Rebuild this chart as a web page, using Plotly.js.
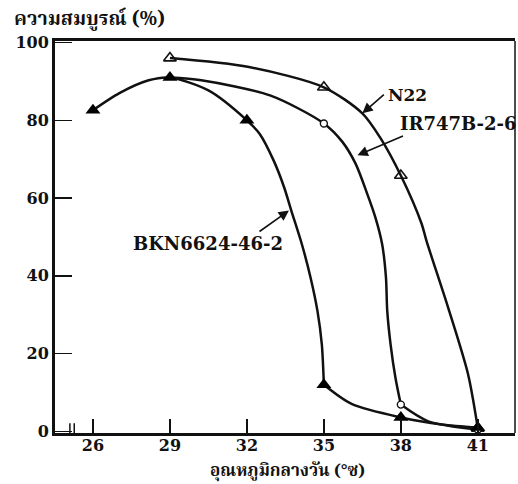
<!DOCTYPE html>
<html>
<head>
<meta charset="utf-8">
<script src="https://cdn.plot.ly/plotly-3.0.1.min.js"></script>
<style>html,body{margin:0;padding:0;background:#fff;}#chart{width:518px;height:484px;}</style>
</head>
<body>
<div id="chart"></div>
<script>
// Marker values (day temperature °C vs. fertility %)
const n22Temp = [29, 35, 38, 41];
const n22Val  = [96, 88.5, 65.8, 0.8];
const irTemp  = [35, 38, 41];
const irVal   = [79.2, 6.9, 0.5];
const bknTemp = [26, 29, 32, 35, 38, 41];
const bknVal  = [82.6, 91, 80, 12, 3.6, 1];

// Curve paths (upper part / lower tail)
const n22CurveT = [29, 32.08, 35, 36.5, 37.19, 38, 38.81, 39.0, 39.85, 40.62, 41];
const n22CurveV = [96, 93.7, 88.5, 81.8, 75.6, 65.8, 53.4, 49, 31.7, 14.7, 0.8];
const irCurveT  = [29, 30.22, 32.9, 35, 35.73, 36.24, 36.69, 37.01, 37.27, 37.42, 37.47, 37.6, 37.79, 38];
const irCurveV  = [91, 90.3, 86.4, 79.2, 74.4, 68.8, 61.1, 55.0, 48.2, 39.6, 31.0, 22.4, 13.8, 6.9];
const irTailT   = [38, 39.07, 41];
const irTailV   = [6.9, 2.6, 0.5];
const bknCurveT = [26, 27.03, 28.17, 29, 30.5, 32, 32.5, 33.04, 33.45, 33.73, 34.14, 34.48, 34.75, 34.92, 35];
const bknCurveV = [82.6, 87, 90.3, 91, 87.7, 80, 76.5, 69.7, 62.8, 56.8, 48.2, 39.6, 31.0, 22.4, 12];
const bknTailT  = [35, 36.1, 38, 39.6, 41];
const bknTailV  = [12, 7, 3.6, 1.8, 1];

const xTicks = [26, 29, 32, 35, 38, 41];
const yTicks = [0, 20, 40, 60, 80, 100];
const seriesNames = ['N22', 'IR747B-2-6', 'BKN6624-46-2'];
const yTitle = 'ความสมบูรณ์ (%)';
const xTitle = 'อุณหภูมิกลางวัน (°ซ)';

const serif = '"DejaVu Serif", "Liberation Serif", serif';
const thai = '"Noto Serif Thai", "Noto Sans Thai", "Norasi", "Loma", "Garuda", serif';
const lineStyle = {color: '#111', width: 2.5, shape: 'spline', smoothing: 0.8};

function curve(xs, ys) {
  return {x: xs, y: ys, mode: 'lines', line: lineStyle, hoverinfo: 'skip', showlegend: false};
}

const traces = [
  curve(n22CurveT, n22CurveV),
  curve(irCurveT, irCurveV),
  curve(irTailT, irTailV),
  curve(bknCurveT, bknCurveV),
  curve(bknTailT, bknTailV),
  {x: n22Temp, y: n22Val, mode: 'markers', name: seriesNames[0],
   marker: {symbol: 'triangle-up-open', size: 11, color: '#111', line: {width: 1.6, color: '#111'}}},
  {x: irTemp, y: irVal, mode: 'markers', name: seriesNames[1],
   marker: {symbol: 'circle', size: 7, color: '#fff', line: {width: 1.4, color: '#111'}}},
  {x: bknTemp, y: bknVal, mode: 'markers', name: seriesNames[2],
   marker: {symbol: 'triangle-up', size: 13, color: '#000', line: {width: 0}}}
];

const layout = {
  width: 518, height: 484,
  margin: {l: 55, r: 3, t: 41, b: 51},
  paper_bgcolor: '#fff', plot_bgcolor: '#fff',
  showlegend: false,
  xaxis: {
    range: [24.52, 42.45], tickvals: xTicks, ticktext: xTicks.map(String),
    ticks: 'inside', ticklen: 14, tickwidth: 1.5, tickcolor: '#111',
    ticklabelstandoff: -4,
    showgrid: false, zeroline: false,
    showline: true, linewidth: 3, linecolor: '#111', mirror: true,
    tickfont: {family: serif, size: 16, color: '#111', weight: 'bold'}
  },
  yaxis: {
    range: [-0.4, 100.4], tickvals: yTicks, ticktext: yTicks.map(String),
    ticks: 'inside', ticklen: 17, tickwidth: 1.5, tickcolor: '#111',
    showgrid: false, zeroline: false,
    showline: true, linewidth: 3, linecolor: '#111',
    tickfont: {family: serif, size: 16, color: '#111', weight: 'bold'}
  },
  shapes: [
    {type: 'line', xref: 'paper', yref: 'paper', x0: 1, x1: 1, y0: 0, y1: 1, line: {color: '#111', width: 1.5}},
    {type: 'line', xref: 'x', yref: 'paper', x0: 25.1, x1: 25.1, y0: 0, y1: 0.025, line: {color: '#111', width: 1.5}},
    {type: 'line', xref: 'x', yref: 'paper', x0: 25.27, x1: 25.27, y0: 0, y1: 0.025, line: {color: '#111', width: 1.5}}
  ],
  annotations: [
    {xref: 'paper', yref: 'paper', x: -0.093, y: 1.0, yshift: 22, xanchor: 'left', yanchor: 'middle',
     text: yTitle, showarrow: false, font: {family: thai, size: 19.5, color: '#111', weight: 'bold'}},
    {xref: 'paper', yref: 'paper', x: 0.505, y: 0, yshift: -38, xanchor: 'center', yanchor: 'middle',
     text: xTitle, showarrow: false, font: {family: thai, size: 17, color: '#111', weight: 'bold'}},
    // arrows
    {x: 36.5, y: 81.8, ax: 23, ay: -20, text: '', showarrow: true, arrowhead: 2, arrowsize: 1.3, arrowwidth: 1.6, arrowcolor: '#111'},
    {x: 36.31, y: 71.0, ax: 47, ay: -20, text: '', showarrow: true, arrowhead: 2, arrowsize: 1.3, arrowwidth: 1.6, arrowcolor: '#111'},
    {x: 33.64, y: 56.8, ax: -31, ay: 22, text: '', showarrow: true, arrowhead: 2, arrowsize: 1.3, arrowwidth: 1.6, arrowcolor: '#111'},
    // labels
    {x: 36.5, y: 81.8, xshift: 24, yshift: 18, xanchor: 'left', yanchor: 'middle', showarrow: false,
     text: seriesNames[0], font: {family: serif, size: 17, color: '#111', weight: 'bold'}},
    {x: 36.31, y: 71.0, xshift: 41, yshift: 32, xanchor: 'left', yanchor: 'middle', showarrow: false,
     text: seriesNames[1], font: {family: serif, size: 18, color: '#111', weight: 'bold'}},
    {x: 33.64, y: 56.8, xshift: -81, yshift: -33, xanchor: 'center', yanchor: 'middle', showarrow: false,
     text: seriesNames[2], font: {family: serif, size: 18, color: '#111', weight: 'bold'}}
  ]
};

Plotly.newPlot('chart', traces, layout, {displayModeBar: false, staticPlot: true});
</script>
</body>
</html>
